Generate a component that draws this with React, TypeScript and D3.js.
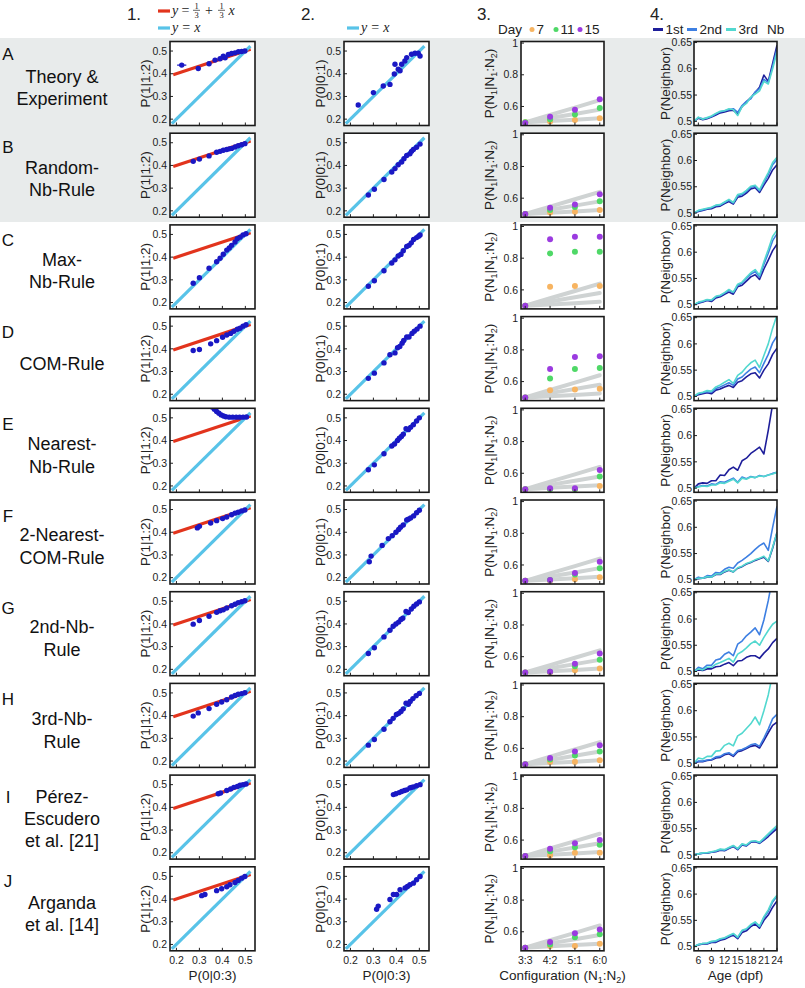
import React from 'react';
import * as d3 from 'd3';

// ---------- DATA ----------
const rowLetters = ['A', 'B', 'C', 'D', 'E', 'F', 'G', 'H', 'I', 'J'];
const rowNames = [
  ['Theory &', 'Experiment'], ['Random-', 'Nb-Rule'], ['Max-', 'Nb-Rule'], ['COM-Rule'],
  ['Nearest-', 'Nb-Rule'], ['2-Nearest-', 'COM-Rule'], ['2nd-Nb-', 'Rule'], ['3rd-Nb-', 'Rule'],
  ['Pérez-', 'Escudero', 'et al. [21]'], ['Arganda', 'et al. [14]'],
];

const scatterTicks = [0.2, 0.3, 0.4, 0.5];
const redLine = [[0.186, 0.3953], [0.523, 0.5077]];
const identityLine = [[0.18, 0.18], [0.522, 0.522]];

// Column 1: P(0|0:3) vs P(1|1:2)
const col1Points = [
  [[0.223, 0.438], [0.295, 0.423], [0.342, 0.444], [0.368, 0.46], [0.39, 0.466], [0.404, 0.477], [0.412, 0.47], [0.426, 0.485], [0.44, 0.489], [0.455, 0.492], [0.47, 0.497], [0.484, 0.498], [0.498, 0.5]],
  [[0.273, 0.418], [0.3, 0.428], [0.342, 0.442], [0.375, 0.458], [0.39, 0.462], [0.404, 0.467], [0.419, 0.47], [0.43, 0.473], [0.44, 0.475], [0.455, 0.481], [0.469, 0.487], [0.484, 0.491], [0.498, 0.496]],
  [[0.273, 0.285], [0.3, 0.309], [0.342, 0.351], [0.375, 0.38], [0.39, 0.395], [0.404, 0.413], [0.419, 0.431], [0.43, 0.44], [0.44, 0.452], [0.455, 0.467], [0.465, 0.481], [0.477, 0.488], [0.49, 0.498], [0.503, 0.503]],
  [[0.273, 0.393], [0.3, 0.397], [0.349, 0.422], [0.375, 0.436], [0.401, 0.451], [0.419, 0.461], [0.436, 0.468], [0.45, 0.477], [0.465, 0.486], [0.477, 0.491], [0.49, 0.5], [0.503, 0.506]],
  [[0.355, 0.548], [0.365, 0.538], [0.375, 0.528], [0.385, 0.52], [0.395, 0.513], [0.405, 0.508], [0.415, 0.505], [0.43, 0.503], [0.445, 0.503], [0.46, 0.503], [0.475, 0.503], [0.49, 0.503], [0.505, 0.504]],
  [[0.291, 0.419], [0.3, 0.426], [0.349, 0.441], [0.375, 0.451], [0.401, 0.46], [0.419, 0.467], [0.44, 0.477], [0.455, 0.484], [0.469, 0.488], [0.484, 0.494], [0.498, 0.498]],
  [[0.273, 0.399], [0.3, 0.415], [0.342, 0.434], [0.375, 0.451], [0.39, 0.458], [0.404, 0.462], [0.419, 0.47], [0.44, 0.48], [0.455, 0.487], [0.469, 0.494], [0.484, 0.498], [0.498, 0.502]],
  [[0.273, 0.398], [0.295, 0.412], [0.342, 0.431], [0.375, 0.45], [0.397, 0.46], [0.419, 0.47], [0.44, 0.482], [0.455, 0.489], [0.469, 0.494], [0.484, 0.497], [0.498, 0.501]],
  [[0.382, 0.46], [0.392, 0.463], [0.419, 0.474], [0.436, 0.481], [0.45, 0.488], [0.465, 0.492], [0.477, 0.497], [0.49, 0.5], [0.503, 0.503]],
  [[0.31, 0.415], [0.324, 0.42], [0.375, 0.437], [0.397, 0.445], [0.419, 0.454], [0.433, 0.463], [0.455, 0.473], [0.469, 0.482], [0.484, 0.492], [0.498, 0.499]],
];
const col1ErrA = [[0.02, 0.008], [0.008, 0.006], [0.006, 0.005], [0.006, 0.005], [0.006, 0.005], [0.006, 0.005], [0.006, 0.005], [0.005, 0.005], [0.005, 0.005], [0.005, 0.004], [0.005, 0.004], [0.005, 0.004], [0.005, 0.004]];

// Column 2: P(0|0:3) vs P(0|0:1)
const col2Points = [
  [[0.234, 0.262], [0.3, 0.317], [0.343, 0.346], [0.372, 0.353], [0.391, 0.399], [0.394, 0.442], [0.408, 0.42], [0.416, 0.413], [0.423, 0.442], [0.437, 0.456], [0.445, 0.471], [0.466, 0.486], [0.481, 0.49], [0.495, 0.49], [0.503, 0.478]],
  [[0.278, 0.27], [0.304, 0.295], [0.346, 0.338], [0.38, 0.371], [0.394, 0.386], [0.408, 0.403], [0.423, 0.415], [0.433, 0.43], [0.445, 0.444], [0.459, 0.451], [0.466, 0.462], [0.474, 0.47], [0.488, 0.48], [0.503, 0.494]],
  [[0.278, 0.272], [0.304, 0.296], [0.346, 0.34], [0.38, 0.374], [0.394, 0.388], [0.408, 0.405], [0.42, 0.412], [0.43, 0.428], [0.445, 0.447], [0.455, 0.452], [0.465, 0.463], [0.475, 0.478], [0.488, 0.486], [0.497, 0.492], [0.503, 0.498]],
  [[0.278, 0.27], [0.304, 0.293], [0.346, 0.338], [0.372, 0.374], [0.394, 0.382], [0.405, 0.405], [0.415, 0.41], [0.425, 0.425], [0.432, 0.437], [0.445, 0.452], [0.455, 0.452], [0.468, 0.468], [0.478, 0.478], [0.49, 0.487], [0.503, 0.5]],
  [[0.278, 0.271], [0.304, 0.293], [0.346, 0.342], [0.38, 0.376], [0.392, 0.385], [0.405, 0.4], [0.413, 0.41], [0.422, 0.418], [0.43, 0.428], [0.442, 0.452], [0.452, 0.448], [0.462, 0.458], [0.474, 0.47], [0.488, 0.486], [0.5, 0.5]],
  [[0.282, 0.27], [0.29, 0.295], [0.338, 0.342], [0.365, 0.372], [0.382, 0.385], [0.398, 0.4], [0.41, 0.412], [0.418, 0.422], [0.43, 0.432], [0.445, 0.454], [0.452, 0.457], [0.462, 0.463], [0.475, 0.472], [0.488, 0.486], [0.5, 0.497]],
  [[0.278, 0.27], [0.304, 0.295], [0.346, 0.343], [0.372, 0.372], [0.386, 0.39], [0.398, 0.4], [0.41, 0.408], [0.42, 0.42], [0.428, 0.425], [0.442, 0.455], [0.452, 0.45], [0.465, 0.466], [0.476, 0.478], [0.488, 0.488], [0.5, 0.497]],
  [[0.278, 0.27], [0.304, 0.295], [0.346, 0.34], [0.372, 0.373], [0.386, 0.388], [0.4, 0.405], [0.41, 0.41], [0.42, 0.418], [0.43, 0.43], [0.442, 0.455], [0.452, 0.45], [0.46, 0.462], [0.472, 0.475], [0.486, 0.488], [0.5, 0.498]],
  [[0.387, 0.456], [0.398, 0.46], [0.412, 0.465], [0.423, 0.47], [0.435, 0.474], [0.445, 0.477], [0.459, 0.485], [0.466, 0.488], [0.474, 0.49], [0.488, 0.495], [0.503, 0.5]],
  [[0.314, 0.355], [0.321, 0.369], [0.372, 0.398], [0.387, 0.42], [0.401, 0.42], [0.416, 0.441], [0.438, 0.449], [0.448, 0.455], [0.459, 0.463], [0.474, 0.47], [0.488, 0.485], [0.503, 0.499]],
];
const col2ErrA = [[0.008, 0.006], [0.006, 0.005], [0.005, 0.005], [0.005, 0.006], [0.004, 0.008], [0.004, 0.008], [0.004, 0.006], [0.004, 0.006], [0.004, 0.006], [0.004, 0.006], [0.004, 0.006], [0.004, 0.005], [0.004, 0.005], [0.004, 0.006], [0.004, 0.006]];

// Column 3: configurations
const configs = ['3:3', '4:2', '5:1', '6:0'];
const configPos = [1, 2, 3, 4];
const days = ['7', '11', '15'];
const greyTheory = [
  [0.5, 0.508, 0.516, 0.525],
  [0.5, 0.527, 0.553, 0.58],
  [0.5, 0.547, 0.593, 0.64],
];
const day7 = [
  [0.5, 0.505, 0.515, 0.525], [0.5, 0.51, 0.515, 0.525], [0.5, 0.62, 0.625, 0.625], [0.5, 0.545, 0.55, 0.555], [0.5, 0.5, 0.5, 0.52],
  [0.5, 0.5, 0.51, 0.522], [0.5, 0.5, 0.515, 0.525], [0.5, 0.515, 0.515, 0.525], [0.5, 0.505, 0.52, 0.52], [0.5, 0.51, 0.51, 0.525],
];
const day11 = [
  [0.5, 0.52, 0.55, 0.59], [0.5, 0.525, 0.545, 0.58], [0.5, 0.83, 0.84, 0.84], [0.5, 0.62, 0.68, 0.685], [0.5, 0.5, 0.5, 0.58],
  [0.5, 0.505, 0.54, 0.58], [0.5, 0.505, 0.54, 0.58], [0.5, 0.53, 0.555, 0.58], [0.5, 0.53, 0.555, 0.57], [0.5, 0.52, 0.565, 0.585],
];
const day15 = [
  [0.495, 0.535, 0.58, 0.645], [0.5, 0.54, 0.56, 0.625], [0.5, 0.92, 0.935, 0.935], [0.5, 0.68, 0.755, 0.76], [0.5, 0.505, 0.505, 0.62],
  [0.5, 0.505, 0.55, 0.62], [0.5, 0.505, 0.555, 0.62], [0.5, 0.54, 0.58, 0.62], [0.5, 0.545, 0.58, 0.6], [0.5, 0.535, 0.59, 0.615],
];

// Column 4: P(Neighbor) vs Age
const ages = [5, 6, 7, 8, 9, 10, 11, 12, 13, 14, 15, 16, 17, 18, 19, 20, 21, 22, 23, 24];
const ageTicks = [6, 9, 12, 15, 18, 21, 24];
const nb1 = [
  [0.5, 0.506, 0.503, 0.505, 0.508, 0.512, 0.516, 0.518, 0.52, 0.521, 0.514, 0.528, 0.537, 0.545, 0.555, 0.565, 0.588, 0.576, 0.61, 0.645],
  [0.5, 0.503, 0.505, 0.507, 0.508, 0.512, 0.513, 0.518, 0.522, 0.517, 0.53, 0.532, 0.538, 0.546, 0.548, 0.539, 0.553, 0.566, 0.582, 0.592],
  [0.5, 0.503, 0.505, 0.508, 0.506, 0.513, 0.515, 0.52, 0.524, 0.52, 0.534, 0.537, 0.545, 0.553, 0.557, 0.548, 0.568, 0.585, 0.603, 0.615],
  [0.5, 0.503, 0.505, 0.507, 0.505, 0.512, 0.514, 0.518, 0.521, 0.517, 0.527, 0.53, 0.537, 0.543, 0.545, 0.535, 0.55, 0.562, 0.58, 0.592],
  [0.5, 0.508, 0.51, 0.509, 0.514, 0.514, 0.525, 0.524, 0.535, 0.54, 0.534, 0.552, 0.557, 0.566, 0.572, 0.578, 0.565, 0.61, 0.66, 0.7],
  [0.5, 0.502, 0.503, 0.505, 0.505, 0.51, 0.51, 0.515, 0.518, 0.515, 0.522, 0.525, 0.53, 0.533, 0.537, 0.54, 0.543, 0.535, 0.56, 0.59],
  [0.5, 0.503, 0.502, 0.505, 0.505, 0.509, 0.51, 0.514, 0.517, 0.511, 0.52, 0.521, 0.527, 0.53, 0.53, 0.525, 0.535, 0.543, 0.555, 0.563],
  [0.5, 0.503, 0.503, 0.505, 0.506, 0.51, 0.511, 0.516, 0.518, 0.513, 0.522, 0.524, 0.528, 0.532, 0.534, 0.529, 0.543, 0.558, 0.572, 0.578],
  [0.5, 0.502, 0.503, 0.503, 0.505, 0.506, 0.509, 0.508, 0.512, 0.516, 0.51, 0.519, 0.517, 0.524, 0.525, 0.522, 0.528, 0.535, 0.543, 0.55],
  [0.5, 0.503, 0.505, 0.505, 0.508, 0.508, 0.512, 0.514, 0.518, 0.522, 0.515, 0.527, 0.53, 0.538, 0.543, 0.535, 0.55, 0.56, 0.575, 0.587],
];
const nb2 = [
  [0.5, 0.507, 0.505, 0.506, 0.509, 0.514, 0.518, 0.52, 0.522, 0.524, 0.517, 0.53, 0.538, 0.543, 0.556, 0.562, 0.58, 0.574, 0.605, 0.638],
  [0.5, 0.504, 0.506, 0.508, 0.51, 0.514, 0.515, 0.52, 0.524, 0.519, 0.533, 0.535, 0.541, 0.549, 0.551, 0.542, 0.558, 0.573, 0.592, 0.602],
  [0.5, 0.504, 0.506, 0.509, 0.508, 0.515, 0.517, 0.522, 0.527, 0.523, 0.537, 0.541, 0.55, 0.558, 0.563, 0.553, 0.577, 0.598, 0.622, 0.635],
  [0.5, 0.505, 0.507, 0.509, 0.508, 0.515, 0.518, 0.522, 0.526, 0.521, 0.533, 0.537, 0.545, 0.552, 0.556, 0.545, 0.563, 0.58, 0.602, 0.615],
  [0.5, 0.503, 0.505, 0.504, 0.508, 0.507, 0.512, 0.511, 0.515, 0.519, 0.511, 0.521, 0.518, 0.522, 0.52, 0.524, 0.522, 0.525, 0.528, 0.53],
  [0.5, 0.505, 0.503, 0.508, 0.507, 0.514, 0.513, 0.52, 0.524, 0.522, 0.532, 0.537, 0.543, 0.55, 0.558, 0.565, 0.57, 0.556, 0.6, 0.64],
  [0.5, 0.508, 0.505, 0.512, 0.512, 0.522, 0.524, 0.533, 0.537, 0.53, 0.552, 0.558, 0.568, 0.575, 0.583, 0.57, 0.598, 0.635, 0.68, 0.71],
  [0.5, 0.504, 0.504, 0.506, 0.507, 0.512, 0.513, 0.518, 0.52, 0.515, 0.524, 0.526, 0.53, 0.535, 0.537, 0.532, 0.548, 0.565, 0.585, 0.593],
  [0.5, 0.502, 0.503, 0.504, 0.505, 0.507, 0.51, 0.509, 0.513, 0.517, 0.511, 0.52, 0.518, 0.525, 0.526, 0.523, 0.53, 0.538, 0.546, 0.553],
  [0.5, 0.504, 0.506, 0.506, 0.509, 0.51, 0.514, 0.516, 0.52, 0.524, 0.517, 0.53, 0.533, 0.541, 0.546, 0.538, 0.555, 0.567, 0.585, 0.596],
];
const nb3 = [
  [0.5, 0.508, 0.504, 0.507, 0.51, 0.515, 0.519, 0.52, 0.524, 0.522, 0.511, 0.528, 0.534, 0.546, 0.552, 0.558, 0.576, 0.571, 0.6, 0.632],
  [0.5, 0.505, 0.507, 0.509, 0.511, 0.515, 0.516, 0.521, 0.526, 0.52, 0.535, 0.537, 0.543, 0.551, 0.553, 0.544, 0.561, 0.577, 0.596, 0.606],
  [0.5, 0.505, 0.507, 0.51, 0.509, 0.516, 0.518, 0.523, 0.529, 0.524, 0.539, 0.543, 0.552, 0.561, 0.567, 0.556, 0.582, 0.605, 0.63, 0.642],
  [0.5, 0.506, 0.508, 0.511, 0.51, 0.518, 0.522, 0.527, 0.532, 0.525, 0.54, 0.546, 0.556, 0.564, 0.569, 0.555, 0.578, 0.6, 0.63, 0.655],
  [0.5, 0.502, 0.504, 0.503, 0.506, 0.506, 0.51, 0.509, 0.513, 0.517, 0.51, 0.519, 0.517, 0.521, 0.52, 0.523, 0.522, 0.525, 0.527, 0.53],
  [0.5, 0.503, 0.503, 0.506, 0.505, 0.511, 0.511, 0.516, 0.519, 0.515, 0.523, 0.526, 0.531, 0.534, 0.538, 0.541, 0.545, 0.536, 0.562, 0.59],
  [0.5, 0.505, 0.503, 0.508, 0.508, 0.514, 0.517, 0.521, 0.525, 0.518, 0.533, 0.538, 0.545, 0.553, 0.558, 0.55, 0.565, 0.578, 0.59, 0.596],
  [0.5, 0.51, 0.508, 0.513, 0.513, 0.523, 0.524, 0.534, 0.538, 0.533, 0.552, 0.557, 0.566, 0.575, 0.588, 0.573, 0.6, 0.63, 0.67, 0.7],
  [0.5, 0.502, 0.504, 0.504, 0.506, 0.508, 0.511, 0.51, 0.514, 0.518, 0.512, 0.521, 0.519, 0.526, 0.527, 0.524, 0.532, 0.54, 0.548, 0.556],
  [0.5, 0.504, 0.506, 0.507, 0.51, 0.511, 0.515, 0.517, 0.521, 0.525, 0.518, 0.531, 0.534, 0.542, 0.547, 0.539, 0.557, 0.57, 0.588, 0.598],
];

// ---------- LAYOUT / STYLE ----------
const FONT = "'Liberation Sans', Arial, Helvetica, sans-serif";
const SERIF = "'Liberation Serif', 'Times New Roman', serif";
const ROW_TOP0 = 41.5;
const ROW_STEP = 91.7;
const PH = 84;
const COLX = [170, 344, 521, 694];
const COLW = [85, 85, 83, 83];
const C = {
  red: '#e2341d', cyan: '#58c3e8', blue: '#1a18c4', grey: '#cfd3d3',
  d7: '#f7b461', d11: '#4fd867', d15: '#9b3be0',
  n1: '#1e1e9a', n2: '#3d7fe2', n3: '#52d8cf', band: '#e8ebeb',
};
const dayColors = [C.d7, C.d11, C.d15];
const nbColors = [C.n1, C.n2, C.n3];
const TICK_FS = 10.5;
const LABEL_FS = 13.5;

const xS = d3.scaleLinear().domain([0.172, 0.542]).range([0, 85]);
const yS = d3.scaleLinear().domain([0.172, 0.542]).range([PH, 0]);
const x3 = d3.scaleLinear().domain([0.83, 4.17]).range([0, 83]);
const y3 = d3.scaleLinear().domain([0.48, 1.01]).range([PH, 0]);
const x4 = d3.scaleLinear().domain([5, 24]).range([0, 83]);
const y4 = d3.scaleLinear().domain([0.492, 0.652]).range([PH, 0]);

const rowTop = (i: number) => ROW_TOP0 + i * ROW_STEP;

const rowTextLayout = [
  { letter: 13, lines: [35, 57] }, { letter: 14, lines: [34, 56] }, { letter: 15, lines: [35, 57] },
  { letter: 15, lines: [47] }, { letter: 16, lines: [35, 58] }, { letter: 16, lines: [35, 58] },
  { letter: 16, lines: [35, 58] }, { letter: 16, lines: [35, 58] }, { letter: 22, lines: [22, 44, 66] },
  { letter: 14, lines: [36, 58] },
];

function Frame({ x, y, w, id, children, xTicks, yTicks, yLabels, xLabels, xScale, yScale, labelGap = 3 }: any) {
  return (
    <g transform={`translate(${x},${y})`}>
      <defs>
        <clipPath id={id}><rect x={0} y={0} width={w} height={PH} /></clipPath>
      </defs>
      <rect x={0} y={0} width={w} height={PH} fill="#fff" />
      <g clipPath={`url(#${id})`}>{children}</g>
      {xTicks.map((t: number, k: number) => (
        <line key={'xt' + k} x1={xScale(t)} x2={xScale(t)} y1={PH} y2={PH - 3} stroke="#222" strokeWidth={1} />
      ))}
      {yTicks.map((t: number, k: number) => (
        <line key={'yt' + k} x1={0} x2={3} y1={yScale(t)} y2={yScale(t)} stroke="#222" strokeWidth={1} />
      ))}
      {yTicks.map((t: number, k: number) => (
        <text key={'yl' + k} x={-labelGap} y={yScale(t)} dy="0.35em" textAnchor="end" fontSize={TICK_FS} fill="#222">{yLabels[k]}</text>
      ))}
      {xLabels && xTicks.map((t: number, k: number) => (
        <text key={'xl' + k} x={xScale(t)} y={PH + 13} textAnchor="middle" fontSize={TICK_FS} fill="#222">{xLabels[k]}</text>
      ))}
      <rect x={0} y={0} width={w} height={PH} fill="none" stroke="#1a1a1a" strokeWidth={1.6} />
    </g>
  );
}

const lineXY = d3.line<number[]>().x((d) => xS(d[0])).y((d) => yS(d[1]));

function ScatterPanel({ i, col }: { i: number; col: number }) {
  const pts = col === 0 ? col1Points[i] : col2Points[i];
  const errs = i === 0 ? (col === 0 ? col1ErrA : col2ErrA) : null;
  const last = i === rowLetters.length - 1;
  return (
    <Frame x={COLX[col]} y={rowTop(i)} w={COLW[col]} id={`clip-${i}-${col}`}
      xTicks={scatterTicks} yTicks={scatterTicks} yLabels={scatterTicks.map((t) => d3.format('.1f')(t))}
      xLabels={last ? scatterTicks.map((t) => d3.format('.1f')(t)) : null} xScale={xS} yScale={yS}>
      {col === 0 && <path d={lineXY(redLine as any) || ''} stroke={C.red} strokeWidth={3.2} fill="none" />}
      <path d={lineXY(identityLine as any) || ''} stroke={C.cyan} strokeWidth={3.2} fill="none" />
      {errs && pts.map((p, k) => (
        <g key={'e' + k} stroke={C.blue} strokeWidth={1.4}>
          <line x1={xS(p[0] - errs[k][0])} x2={xS(p[0] + errs[k][0])} y1={yS(p[1])} y2={yS(p[1])} />
          <line x1={xS(p[0])} x2={xS(p[0])} y1={yS(p[1] - errs[k][1])} y2={yS(p[1] + errs[k][1])} />
        </g>
      ))}
      {pts.map((p, k) => (
        <circle key={k} cx={xS(p[0])} cy={yS(p[1])} r={2.7} fill={C.blue} />
      ))}
    </Frame>
  );
}

const line3 = d3.line<number>().x((_, k) => x3(configPos[k])).y((d) => y3(d));

function ConfigPanel({ i }: { i: number }) {
  const series = [day7[i], day11[i], day15[i]];
  const last = i === rowLetters.length - 1;
  return (
    <Frame x={COLX[2]} y={rowTop(i)} w={COLW[2]} id={`clip-${i}-2`}
      xTicks={configPos} yTicks={[0.6, 0.8, 1]} yLabels={['0.6', '0.8', '1']}
      xLabels={last ? configs : null} xScale={x3} yScale={y3}>
      {greyTheory.map((g, k) => (
        <path key={'g' + k} d={line3(g) || ''} stroke={C.grey} strokeWidth={4} fill="none" strokeLinecap="round" />
      ))}
      {series.map((s, k) => s.map((v, j) => (
        <circle key={k + '-' + j} cx={x3(configPos[j])} cy={y3(v)} r={3} fill={dayColors[k]} />
      )))}
    </Frame>
  );
}

const line4 = d3.line<number>().x((_, k) => x4(ages[k])).y((d) => y4(d));

function AgePanel({ i }: { i: number }) {
  const series = [nb1[i], nb2[i], nb3[i]];
  const last = i === rowLetters.length - 1;
  return (
    <Frame x={COLX[3]} y={rowTop(i)} w={COLW[3]} id={`clip-${i}-3`} labelGap={2}
      xTicks={ageTicks} yTicks={[0.5, 0.55, 0.6, 0.65]} yLabels={['0.5', '0.55', '0.6', '0.65']}
      xLabels={last ? ageTicks.map(String) : null} xScale={x4} yScale={y4}>
      {series.map((s, k) => (
        <path key={k} d={line4(s) || ''} stroke={nbColors[k]} strokeWidth={1.6} fill="none" strokeLinejoin="round" />
      ))}
    </Frame>
  );
}

function SubLabel({ x, y, parts }: { x: number; y: number; parts: any[] }) {
  return (
    <text transform={`translate(${x},${y}) rotate(-90)`} textAnchor="middle" dy="0.35em" fontSize={LABEL_FS} fill="#222">
      {parts}
    </text>
  );
}

function PN() {
  return [
    <tspan key="a">P(N</tspan>, <tspan key="b" dy={3} fontSize={9}>1</tspan>, <tspan key="c" dy={-3}>|N</tspan>,
    <tspan key="d" dy={3} fontSize={9}>1</tspan>, <tspan key="e" dy={-3}>:N</tspan>, <tspan key="f" dy={3} fontSize={9}>2</tspan>,
    <tspan key="g" dy={-3}>)</tspan>,
  ];
}

function Frac({ cx, y }: { cx: number; y: number }) {
  return (
    <g>
      <text x={cx} y={y - 3} textAnchor="middle" fontSize={8.5} fontFamily={SERIF} fill="#222">1</text>
      <line x1={cx - 3.5} x2={cx + 3.5} y1={y - 1.2} y2={y - 1.2} stroke="#222" strokeWidth={0.7} />
      <text x={cx} y={y + 6.5} textAnchor="middle" fontSize={8.5} fontFamily={SERIF} fill="#222">3</text>
    </g>
  );
}

export default function App() {
  const lastTop = rowTop(rowLetters.length - 1);
  return (
    <svg width={805} height={988} style={{ position: 'absolute', left: 0, top: 0, background: '#fff' }} fontFamily={FONT}>
      <rect x={0} y={0} width={805} height={988} fill="#fff" />
      <rect x={0} y={38} width={805} height={184} fill={C.band} />

      {/* column headers */}
      {[['1.', 134], ['2.', 308], ['3.', 484], ['4.', 657]].map(([t, x]) => (
        <text key={t as string} x={x as number} y={20} textAnchor="middle" fontSize={17} fill="#222">{t}</text>
      ))}

      {/* legend col 1 */}
      <line x1={158} x2={170} y1={11} y2={11} stroke={C.red} strokeWidth={3.2} />
      <text x={172} y={15} fontSize={14} fontFamily={SERIF} fontStyle="italic" fill="#222">y</text>
      <text x={181.5} y={15} fontSize={14} fontFamily={SERIF} fill="#222">=</text>
      <Frac cx={196.5} y={11.5} />
      <text x={205} y={15} fontSize={14} fontFamily={SERIF} fill="#222">+</text>
      <Frac cx={221.5} y={11.5} />
      <text x={228.5} y={15} fontSize={14} fontFamily={SERIF} fontStyle="italic" fill="#222">x</text>
      <line x1={158} x2={170} y1={28} y2={28} stroke={C.cyan} strokeWidth={3.2} />
      <text x={172} y={32} fontSize={14} fontFamily={SERIF} fill="#222">
        <tspan fontStyle="italic">y</tspan><tspan dx={4}>=</tspan><tspan dx={4} fontStyle="italic">x</tspan>
      </text>

      {/* legend col 2 */}
      <line x1={347} x2={359} y1={28} y2={28} stroke={C.cyan} strokeWidth={3.2} />
      <text x={361} y={32} fontSize={14} fontFamily={SERIF} fill="#222">
        <tspan fontStyle="italic">y</tspan><tspan dx={4}>=</tspan><tspan dx={4} fontStyle="italic">x</tspan>
      </text>

      {/* legend col 3 */}
      <text x={498} y={34} fontSize={LABEL_FS} fill="#222">Day</text>
      {days.map((d, k) => {
        const dx = [532, 556, 580][k];
        return (
          <g key={d}>
            <circle cx={dx} cy={29.5} r={2.5} fill={dayColors[k]} />
            <text x={dx + 4.5} y={34} fontSize={LABEL_FS} fill="#222">{d}</text>
          </g>
        );
      })}

      {/* legend col 4 */}
      {['1st', '2nd', '3rd'].map((t, k) => {
        const lx = [653, 687, 726][k];
        return (
          <g key={t}>
            <line x1={lx} x2={lx + 10} y1={29.5} y2={29.5} stroke={nbColors[k]} strokeWidth={3} />
            <text x={lx + 12.5} y={34} fontSize={LABEL_FS} fill="#222">{t}</text>
          </g>
        );
      })}
      <text x={767} y={34} fontSize={LABEL_FS} fill="#222">Nb</text>

      {/* row labels */}
      {rowLetters.map((L, i) => (
        <g key={L}>
          <text x={8} y={rowTop(i) + rowTextLayout[i].letter} dy="0.35em" textAnchor="middle" fontSize={17} fill="#111">{L}</text>
          {rowNames[i].map((n, k) => (
            <text key={k} x={62} y={rowTop(i) + rowTextLayout[i].lines[k]} dy="0.35em" textAnchor="middle" fontSize={18} fill="#111">{n}</text>
          ))}
        </g>
      ))}

      {/* panels */}
      {rowLetters.map((L, i) => (
        <g key={'p' + L}>
          <ScatterPanel i={i} col={0} />
          <ScatterPanel i={i} col={1} />
          <ConfigPanel i={i} />
          <AgePanel i={i} />
          <SubLabel x={145} y={rowTop(i) + PH / 2} parts={['P(1|1:2)']} />
          <SubLabel x={320} y={rowTop(i) + PH / 2} parts={['P(0|0:1)']} />
          <SubLabel x={489} y={rowTop(i) + PH / 2} parts={PN()} />
          <SubLabel x={665} y={rowTop(i) + PH / 2} parts={['P(Neighbor)']} />
        </g>
      ))}

      {/* x axis titles */}
      <text x={COLX[0] + COLW[0] / 2} y={lastTop + PH + 29} textAnchor="middle" fontSize={LABEL_FS} fill="#222">P(0|0:3)</text>
      <text x={COLX[1] + COLW[1] / 2} y={lastTop + PH + 29} textAnchor="middle" fontSize={LABEL_FS} fill="#222">P(0|0:3)</text>
      <text x={COLX[2] + COLW[2] / 2} y={lastTop + PH + 29} textAnchor="middle" fontSize={LABEL_FS} fill="#222">
        Configuration (N<tspan dy={3} fontSize={9}>1</tspan><tspan dy={-3}>:N</tspan><tspan dy={3} fontSize={9}>2</tspan><tspan dy={-3}>)</tspan>
      </text>
      <text x={COLX[3] + COLW[3] / 2} y={lastTop + PH + 29} textAnchor="middle" fontSize={LABEL_FS} fill="#222">Age (dpf)</text>
    </svg>
  );
}
